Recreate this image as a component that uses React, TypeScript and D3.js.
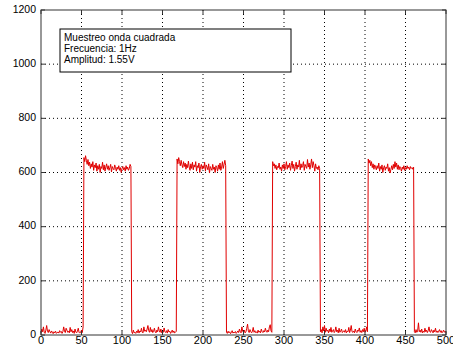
import { useMemo } from "react";
import * as d3 from "d3";

// ADC samples (one per index 0..500)
const samples = [
  8, 22, 12, 30, 10, 6, 18, 35, 14, 9, 20, 12, 7, 15, 10, 5, 12, 8, 14, 6,
  9, 11, 7, 16, 10, 13, 6, 12, 30, 15, 9, 25, 18, 10, 14, 8, 28, 12, 20, 9,
  15, 6, 22, 11, 8, 14, 25, 10, 7, 12, 18, 9, 30,
  655, 640, 662, 645, 630, 648, 625, 638, 615, 632, 620, 640, 608, 628, 618, 635, 605, 625, 612, 630,
  600, 622, 615, 638, 610, 628, 605, 620, 632, 612, 625, 608, 618, 630, 602, 622, 615, 610, 628, 618,
  605, 620, 612, 625, 608, 618, 600, 615, 622, 610, 618, 605, 625, 612, 620, 608, 615, 630, 622,
  12, 5, 18, 8, 10, 6, 14, 9, 20, 7, 15, 11, 25, 10, 8, 30, 14, 18, 12, 22,
  35, 16, 10, 28, 12, 20, 9, 14, 25, 11, 8, 18, 12, 30, 15, 10, 22, 8, 14, 10,
  26, 12, 9, 16, 7, 20, 11, 14, 6, 12, 18, 9, 15, 8, 10, 14,
  650, 632, 655, 640, 625, 645, 628, 618, 640, 622, 635, 612, 630, 618, 642, 620, 608, 632, 615, 638,
  610, 628, 620, 640, 605, 625, 618, 635, 600, 622, 630, 612, 625, 615, 638, 605, 628, 620, 610, 632,
  598, 622, 615, 608, 630, 612, 620, 600, 625, 618, 605, 628, 612, 635, 608, 620, 640, 615, 630, 645, 625,
  10, 6, 14, 8, 12, 5, 9, 16, 7, 11, 8, 13, 6, 10, 15, 9, 22, 12, 8, 30,
  14, 10, 18, 8, 12, 25, 40, 15, 9, 20, 12, 8, 14, 28, 10, 16, 9, 12, 7, 18,
  10, 14, 8, 22, 12, 9, 16, 11, 25, 14, 10, 18, 12, 30, 38, 15, 10,
  640, 625, 632, 615, 628, 610, 622, 618, 635, 612, 620, 605, 628, 615, 632, 610, 622, 640, 612, 628,
  618, 635, 608, 625, 642, 615, 630, 605, 622, 638, 612, 628, 620, 645, 610, 632, 618, 625, 640, 608,
  630, 622, 615, 648, 620, 635, 612, 628, 650, 618, 640, 625, 605, 632, 615, 620, 610, 625, 615,
  12, 20, 8, 30, 15, 35, 10, 25, 14, 18, 8, 22, 12, 28, 10, 16, 20, 9, 14, 30,
  12, 18, 8, 25, 10, 14, 22, 9, 12, 16, 10, 20, 8, 14, 12, 28, 9, 18, 35, 12,
  10, 15, 8, 22, 12, 9, 18, 14, 26, 10, 16, 9, 20, 12, 25, 10, 15, 30, 12,
  650, 635, 645, 625, 640, 618, 632, 612, 628, 620, 610, 625, 615, 635, 605, 622, 612, 628, 600, 618,
  625, 608, 620, 615, 632, 605, 618, 598, 612, 625, 610, 630, 615, 640, 620, 635, 612, 628, 610, 622,
  615, 605, 620, 612, 625, 608, 618, 612, 625, 615, 620, 610, 622, 615, 618, 612, 620,
  12, 8, 20, 10, 15, 45, 12, 18, 10, 22, 8, 14, 10, 25, 12, 18, 9, 16, 30, 12,
  10, 20, 14, 8, 18, 12, 25, 10, 15, 9, 14, 20, 10, 16, 8, 12, 18, 10, 14, 8,
];

const xTicks = [0, 50, 100, 150, 200, 250, 300, 350, 400, 450, 500];
const yTicks = [0, 200, 400, 600, 800, 1000, 1200];
const legendLines = ["Muestreo onda cuadrada", "Frecuencia: 1Hz", "Amplitud: 1.55V"];

const W = 453;
const H = 345;
const plot = { left: 41, right: 446, top: 10, bottom: 335 };
const font = "'Liberation Sans', Arial, sans-serif";

export default function App() {
  const x = d3.scaleLinear().domain([0, 500]).range([plot.left, plot.right]);
  const y = d3.scaleLinear().domain([0, 1200]).range([plot.bottom, plot.top]);

  const path = useMemo(
    () =>
      d3
        .line<number>()
        .x((_, i) => x(i))
        .y((d) => y(d))(samples) ?? "",
    []
  );

  const axisColor = "#333";

  return (
    <svg
      width={W}
      height={H}
      style={{ position: "absolute", left: 0, top: 0, background: "#fff" }}
    >
      {/* grid */}
      {xTicks.slice(1, -1).map((t) => (
        <line
          key={`gx${t}`}
          x1={x(t)}
          x2={x(t)}
          y1={plot.top}
          y2={plot.bottom}
          stroke="#000"
          strokeDasharray="1,3"
        />
      ))}
      {yTicks.slice(1, -1).map((t) => (
        <line
          key={`gy${t}`}
          x1={plot.left}
          x2={plot.right}
          y1={y(t)}
          y2={y(t)}
          stroke="#000"
          strokeDasharray="1,3"
        />
      ))}

      {/* signal */}
      <path d={path} fill="none" stroke="#e00000" strokeWidth={1} />

      {/* box and ticks */}
      <rect
        x={plot.left}
        y={plot.top}
        width={plot.right - plot.left}
        height={plot.bottom - plot.top}
        fill="none"
        stroke={axisColor}
      />
      {xTicks.map((t) => (
        <g key={`tx${t}`}>
          <line x1={x(t)} x2={x(t)} y1={plot.bottom} y2={plot.bottom - 4} stroke={axisColor} />
          <line x1={x(t)} x2={x(t)} y1={plot.top} y2={plot.top + 4} stroke={axisColor} />
          <text
            x={x(t)}
            y={plot.bottom + 8.5}
            textAnchor="middle"
            fontFamily={font}
            fontSize={11}
            fill="#000"
          >
            {t}
          </text>
        </g>
      ))}
      {yTicks.map((t) => (
        <g key={`ty${t}`}>
          <line x1={plot.left} x2={plot.left + 4} y1={y(t)} y2={y(t)} stroke={axisColor} />
          <line x1={plot.right} x2={plot.right - 4} y1={y(t)} y2={y(t)} stroke={axisColor} />
          <text
            x={plot.left - 5}
            y={y(t)}
            textAnchor="end"
            dominantBaseline="middle"
            fontFamily={font}
            fontSize={10.5}
            fill="#000"
          >
            {t}
          </text>
        </g>
      ))}

      {/* legend */}
      <rect x={60} y={29} width={231} height={43} fill="#fff" stroke="#000" />
      {legendLines.map((s, i) => (
        <text
          key={s}
          x={64}
          y={41 + i * 11}
          fontFamily={font}
          fontSize={10}
          fill="#000"
        >
          {s}
        </text>
      ))}
    </svg>
  );
}
